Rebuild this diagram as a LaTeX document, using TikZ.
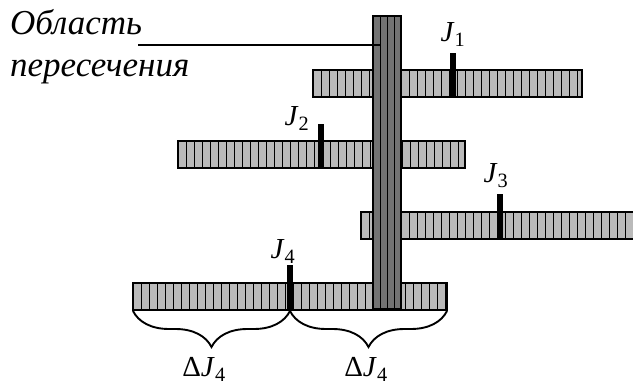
\documentclass[tikz,border=0pt]{standalone}
\usepackage{fontspec}
\setmainfont{Liberation Serif}
\usetikzlibrary{decorations.pathreplacing}

\tikzset{
    bar/.style={draw=black, line width=1.3pt, fill=black!27},
    post/.style={draw=black, line width=1.3pt, fill=black!55},
    stripe/.style={draw=black, line width=1pt},
    mark bar/.style={fill=black},
    jlabel/.style={font=\fontsize{29}{32}\selectfont, inner sep=0pt, anchor=base},
    txt/.style={font=\fontsize{35}{38}\selectfont\itshape, inner sep=0pt, anchor=base west},
    brc/.style={decorate, decoration={brace, mirror, amplitude=36pt, aspect=0.5}, line width=1.9pt},
}

% striped horizontal strip: left x, right x, top y
\newcommand{\hstrip}[3]{%
    \draw[bar] (#1,#3) rectangle (#2,#3+27);
    \begin{scope}
        \clip (#1,#3) rectangle (#2,#3+27);
        \foreach \sx in {8,16,...,500} \draw[stripe] (#1+\sx,#3) -- ++(0,27);
    \end{scope}
    \draw[bar, fill=none] (#1,#3) rectangle (#2,#3+27);
}

\begin{document}
\begin{tikzpicture}[x=1pt, y=-1pt]
    \useasboundingbox (0,0) rectangle (633,385);

    % the four strips
    \hstrip{313}{582}{70}
    \hstrip{178}{465}{141}
    \hstrip{361}{640}{212}
    \hstrip{133}{447}{283}

    % the common column
    \draw[post] (373,16) rectangle (401,309);
    \foreach \sx in {380,387,394} \draw[stripe] (\sx,16) -- (\sx,309);
    \draw[post, fill=none] (373,16) rectangle (401,309);

    % marks
    \fill[mark bar] (450,53) rectangle (456,97);
    \fill[mark bar] (318,124) rectangle (324,168);
    \fill[mark bar] (497,194) rectangle (503,239);
    \fill[mark bar] (287,265) rectangle (293,310);

    \node[jlabel] (j1) at (453,42) {\textit{J}\textsubscript{1}};
    \node[jlabel] (j2) at (297,126) {\textit{J}\textsubscript{2}};
    \node[jlabel] (j3) at (496,183) {\textit{J}\textsubscript{3}};
    \node[jlabel] (j4) at (283,259) {\textit{J}\textsubscript{4}};

    % intersection label
    \node[txt] (area) at (10,35) {Область};
    \node[txt] (cross) at (10,77) {пересечения};
    \coordinate (lead) at (138,45);
    \coordinate (hit) at (380,45);
    \draw[line width=1.3pt] (lead) -- (hit);

    % braces under J4
    \coordinate (b0) at (133,311);
    \coordinate (b1) at (290,311);
    \coordinate (b2) at (447,311);
    \draw[brc] (b0) -- (b1);
    \draw[brc] (b1) -- (b2);
    \node[jlabel] (d1) at (204,377) {Δ\textit{J}\textsubscript{4}};
    \node[jlabel] (d2) at (366,377) {Δ\textit{J}\textsubscript{4}};
\end{tikzpicture}
\end{document}
